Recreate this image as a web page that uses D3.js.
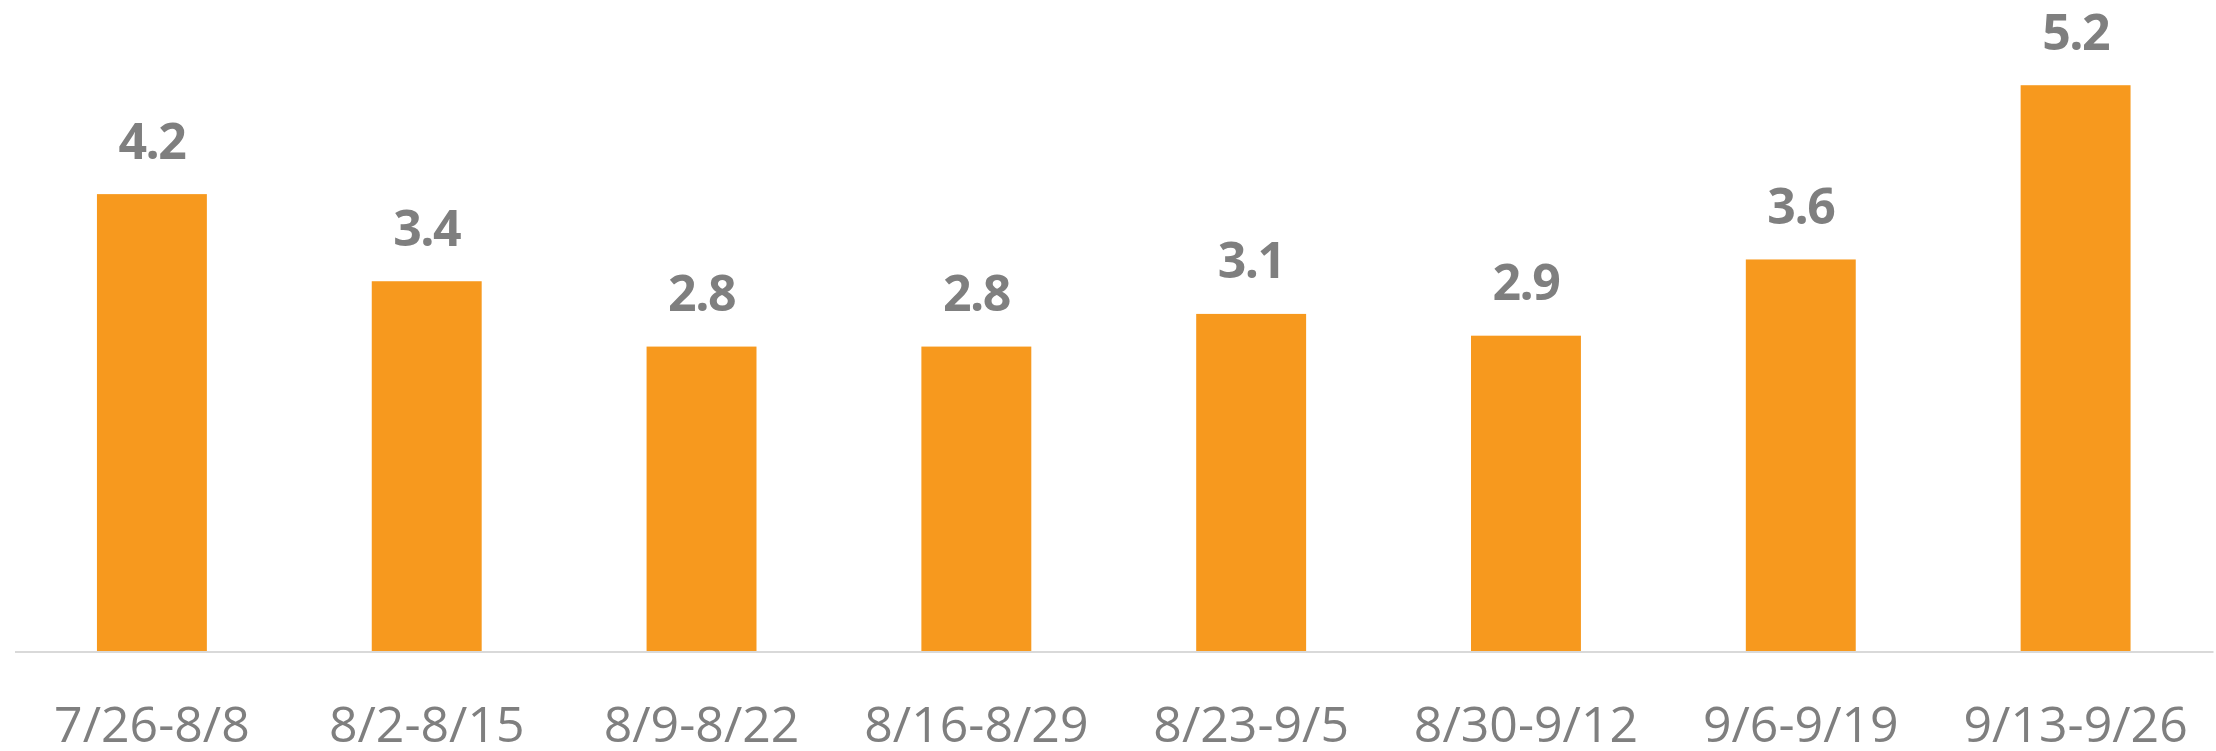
<!DOCTYPE html>
<html>
<head>
<meta charset="utf-8">
<script src="https://cdn.jsdelivr.net/npm/d3@7"></script>
<style>
  html, body { margin: 0; padding: 0; background: #fff; }
  svg { display: block; }
</style>
</head>
<body>
<div id="chart"></div>
<script>
// two-week windows
let periods = ['7/26-8/8', '8/2-8/15', '8/9-8/22', '8/16-8/29', '8/23-9/5', '8/30-9/12', '9/6-9/19', '9/13-9/26']

let values = [4.2, 3.4, 2.8, 2.8, 3.1, 2.9, 3.6, 5.2]

let yMax = 6

let width = 2216,
    height = 751

let svg = d3.select('#chart').append('svg')
    .attr('width', width)
    .attr('height', height)

let x = d3.scaleBand()
    .domain(periods)
    .range([14.5, 2213])
    .paddingInner(0.6)
    .paddingOuter(0.3)

let y = d3.scaleLinear()
    .domain([0, yMax])
    .range([651.5, -1.9])

let data = periods.map(function(p, i){
    return {'period': p, 'value': values[i]}
})

// bars
svg.append('g')
    .selectAll('rect')
    .data(data)
    .enter()
    .append('rect')
    .attr('x', function(d){ return x(d.period) })
    .attr('width', x.bandwidth())
    .attr('y', function(d){ return y(d.value) })
    .attr('height', function(d){ return y(0) - y(d.value) })
    .attr('fill', '#f7991e')

// value labels
svg.append('g')
    .selectAll('text')
    .data(data)
    .enter()
    .append('text')
    .attr('x', function(d){ return x(d.period) + x.bandwidth() / 2 })
    .attr('y', function(d){ return y(d.value) - 35.5 })
    .attr('text-anchor', 'middle')
    .attr('font-family', '"Open Sans", sans-serif')
    .attr('font-weight', 'bold')
    .attr('font-size', 50)
    .attr('letter-spacing', -1.5)
    .attr('fill', '#7f7f7f')
    .text(function(d){ return d3.format('.1f')(d.value) })

// category axis
let xAxis = svg.append('g')
    .attr('transform', 'translate(0,' + y(0) + ')')
    .call(d3.axisBottom(x).tickSize(0).tickPadding(0))

xAxis.select('.domain')
    .attr('stroke', '#d9d9d9')
    .attr('stroke-width', 2)

xAxis.selectAll('.tick text')
    .attr('dy', 0)
    .attr('y', 90)
    .attr('font-family', '"Open Sans", sans-serif')
    .attr('font-size', 50)
    .attr('fill', '#7f7f7f')
</script>
</body>
</html>
